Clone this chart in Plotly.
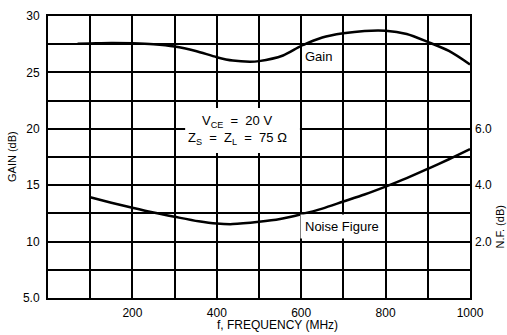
import plotly.graph_objects as go

# Data
gain_freq = [70, 100, 150, 200, 250, 300, 350, 400, 438, 478, 500, 557, 600, 650, 700, 750, 800, 850, 900, 950, 1000]
gain_db = [27.55, 27.57, 27.6, 27.58, 27.5, 27.3, 26.9, 26.35, 26.05, 25.95, 26.0, 26.5, 27.35, 28.1, 28.47, 28.68, 28.7, 28.4, 27.7, 26.9, 25.7]

nf_freq = [100, 150, 200, 250, 300, 357, 400, 438, 500, 550, 600, 650, 700, 750, 800, 850, 900, 950, 1000]
nf_db = [3.57, 3.38, 3.2, 3.03, 2.88, 2.72, 2.64, 2.62, 2.7, 2.8, 2.97, 3.17, 3.42, 3.67, 3.95, 4.25, 4.58, 4.92, 5.28]

x_tickvals = [200, 400, 600, 800, 1000]
x_ticktext = ["200", "400", "600", "800", "1000"]
y_tickvals = [5, 10, 15, 20, 25, 30]
y_ticktext = ["5.0", "10", "15", "20", "25", "30"]
y2_tickvals = [2, 4, 6]
y2_ticktext = ["2.0", "4.0", "6.0"]

FONT = "Liberation Sans, Arial"
GRID = dict(color="black", width=1.6)

fig = go.Figure()
fig.add_trace(go.Scatter(x=gain_freq, y=gain_db, mode="lines",
                         line=dict(color="black", width=2.5, shape="spline", smoothing=0.8), showlegend=False))
fig.add_trace(go.Scatter(x=nf_freq, y=nf_db, mode="lines", yaxis="y2",
                         line=dict(color="black", width=2.5, shape="spline", smoothing=0.8), showlegend=False))

fig.update_layout(
    width=507, height=335,
    margin=dict(l=48, r=37, t=16, b=37),
    paper_bgcolor="white", plot_bgcolor="white",
    font=dict(family=FONT, size=12, color="black"),
    xaxis=dict(range=[0, 1000], tickvals=x_tickvals, ticktext=x_ticktext,
               showgrid=True, gridcolor=GRID["color"], gridwidth=GRID["width"],
               minor=dict(tickmode="linear", tick0=0, dtick=100, showgrid=True,
                          gridcolor=GRID["color"], gridwidth=GRID["width"]),
               showline=True, linecolor="black", linewidth=2, mirror=True, ticks="",
               zeroline=False, ticklabelstandoff=3, automargin=False),
    yaxis=dict(range=[5, 30], tickvals=y_tickvals, ticktext=y_ticktext,
               showgrid=True, gridcolor=GRID["color"], gridwidth=GRID["width"],
               minor=dict(tickmode="linear", tick0=5, dtick=2.5, showgrid=True,
                          gridcolor=GRID["color"], gridwidth=GRID["width"]),
               showline=True, linecolor="black", linewidth=2, mirror=True, ticks="",
               zeroline=False, ticklabelstandoff=4, automargin=False),
    yaxis2=dict(range=[0, 10], overlaying="y", side="right", tickvals=y2_tickvals, ticktext=y2_ticktext,
                showgrid=False, zeroline=False, ticks="", showline=False, ticklabelstandoff=4,
                automargin=False),
)

# white box behind the conditions text (hides grid there, as in the reference)
fig.add_shape(type="rect", x0=325, x1=597, y0=17.85, y1=21.85, xref="x", yref="y",
              fillcolor="white", line=dict(width=0), layer="above")

fig.add_annotation(x=0, y=0.5, xref="paper", yref="paper", text="GAIN (dB)", showarrow=False, textangle=-90,
                   font=dict(size=11), xanchor="center", yanchor="middle", xshift=-36)
fig.add_annotation(x=0.5, y=0, xref="paper", yref="paper", text="f, FREQUENCY (MHz)", showarrow=False,
                   font=dict(size=12), xanchor="center", yanchor="middle", xshift=18, yshift=-27)
fig.add_annotation(x=1, y=0.25, xref="paper", yref="paper", text="N.F. (dB)", showarrow=False, textangle=-90,
                   font=dict(size=11), xanchor="center", yanchor="middle", xshift=29)
fig.add_annotation(x=448, y=20.65, text="V<sub>CE</sub>  =  20 V", showarrow=False,
                   font=dict(size=13), xanchor="center", yanchor="middle")
fig.add_annotation(x=448, y=19.15, text="Z<sub>S</sub>  =  Z<sub>L</sub>  =  75 Ω", showarrow=False,
                   font=dict(size=13), xanchor="center", yanchor="middle")
fig.add_annotation(x=642, y=26.4, text="Gain", showarrow=False, bgcolor="white", borderpad=2,
                   font=dict(size=13), xanchor="center", yanchor="middle")
fig.add_annotation(x=697, y=11.3, text="Noise Figure", showarrow=False, bgcolor="white", borderpad=4,
                   font=dict(size=13), xanchor="center", yanchor="middle")

fig.write_html("out.html", config={"displayModeBar": False},
               post_script="document.body.style.margin='0';document.body.style.overflow='hidden';")
